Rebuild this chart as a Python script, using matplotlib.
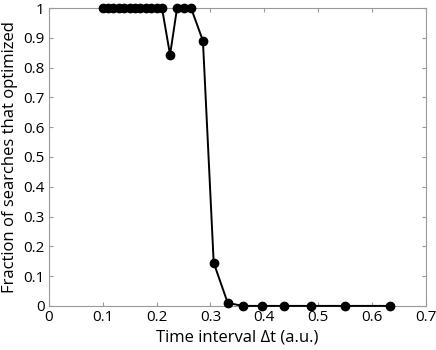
import matplotlib
matplotlib.use("Agg")
import matplotlib.pyplot as plt

# Time interval vs fraction of searches that optimized
dt = [0.10, 0.11, 0.12, 0.13, 0.14, 0.15, 0.16, 0.17, 0.18, 0.19, 0.20, 0.21,
      0.225, 0.238, 0.251, 0.264, 0.286, 0.306, 0.332, 0.360, 0.396, 0.436,
      0.486, 0.550, 0.634]
frac = [1, 1, 1, 1, 1, 1, 1, 1, 1, 1, 1, 1,
        0.843, 1, 1, 1, 0.89, 0.145, 0.01, 0, 0, 0,
        0, 0, 0]

xticks = [0, 0.1, 0.2, 0.3, 0.4, 0.5, 0.6, 0.7]
yticks = [0, 0.1, 0.2, 0.3, 0.4, 0.5, 0.6, 0.7, 0.8, 0.9, 1]

plt.rcParams['font.family'] = ['Open Sans', 'DejaVu Sans']

fig = plt.figure(figsize=(4.36, 3.5), dpi=100)
ax = fig.add_axes([0.112, 0.126, 0.865, 0.851])

ax.plot(dt, frac, '-o', color='black', linewidth=1.4, markersize=6, clip_on=False, zorder=3)

ax.set_xlim(0, 0.7)
ax.set_ylim(0, 1)
ax.set_xticks(xticks)
ax.set_xticklabels([f"{t:g}" for t in xticks])
ax.set_yticks(yticks)
ax.set_yticklabels([f"{t:g}" for t in yticks])
ax.tick_params(direction='in', length=3, color='#999999', labelsize=11, pad=3,
               top=True, right=True)
for spine in ax.spines.values():
    spine.set_color('#999999')
    spine.set_linewidth(0.8)

ax.set_xlabel('Time interval \u0394t (a.u.)', fontsize=12, labelpad=3)
ax.set_ylabel('Fraction of searches that optimized', fontsize=12, labelpad=4)

fig.savefig('out.png', dpi=100)
